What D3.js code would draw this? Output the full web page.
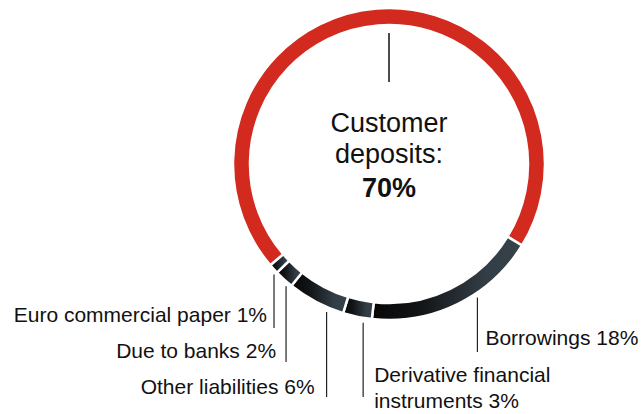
<!DOCTYPE html>
<html lang="en">
<head>
  <meta charset="UTF-8">
  <title>Funding mix</title>
  <script src="https://d3js.org/d3.v7.min.js"></script>
  <style>
    html, body { margin: 0; padding: 0; background: #fff; }
    svg { display: block; font-family: "Liberation Sans", Arial, sans-serif; }
  </style>
</head>
<body>
  <svg id="donut" width="641" height="414"></svg>

<script>
  // Données (en %)
  const categories = ["Customer deposits", "Borrowings", "Derivative financial instruments",
                      "Other liabilities", "Due to banks", "Euro commercial paper"];
  const shares = [70, 18, 3, 6, 2, 1];
  const labelLines = [
    null,
    ["Borrowings 18%"],
    ["Derivative financial", "instruments 3%"],
    ["Other liabilities 6%"],
    ["Due to banks 2%"],
    ["Euro commercial paper 1%"]
  ];

  // Mise en page des étiquettes : côté, position du trait dans le segment, écart, ligne de base, bas du trait
  const labelLayout = [
    null,
    { side: "right", frac: 0.37, gap: 8,  y: 345, lineEnd: 352 },
    { side: "right", frac: 0.30, gap: 11, y: 382, lineEnd: 397 },
    { side: "left",  frac: 0.30, gap: 12, y: 394, lineEnd: 397 },
    { side: "left",  frac: 0.36, gap: 10, y: 358, lineEnd: 362 },
    { side: "left",  frac: 0.44, gap: 7,  y: 322, lineEnd: 328 }
  ];

  const cx = 389, cy = 164;
  const outerR = 156, innerR = 139;
  const rad = Math.PI / 180;

  const svg = d3.select("#donut");

  // Dégradé des segments sombres
  const defs = svg.append("defs");
  const gradient = defs.append("linearGradient")
                       .attr("id", "darkGradient")
                       .attr("x1", 0).attr("y1", 0)
                       .attr("x2", 1).attr("y2", 0);
  gradient.append("stop").attr("offset", "0%").attr("stop-color", "#070707");
  gradient.append("stop").attr("offset", "30%").attr("stop-color", "#111315");
  gradient.append("stop").attr("offset", "75%").attr("stop-color", "#323d45");
  gradient.append("stop").attr("offset", "100%").attr("stop-color", "#36424a");

  const data = categories.map((c, i) => ({ name: c, value: shares[i], index: i }));

  const start = -130.5 * rad;
  const pie = d3.pie()
                .sort(null)
                .value(d => d.value)
                .startAngle(start)
                .endAngle(start + 2 * Math.PI);

  const arc = d3.arc().innerRadius(innerR).outerRadius(outerR);

  const g = svg.append("g").attr("transform", `translate(${cx},${cy})`);
  const arcs = pie(data);

  g.selectAll("path.slice")
   .data(arcs)
   .enter()
   .append("path")
     .attr("class", "slice")
     .attr("d", arc)
     .attr("fill", d => d.data.index === 0 ? "#d22a1e" : "url(#darkGradient)")
     .attr("stroke", "#fff")
     .attr("stroke-width", 2.5);

  // Traits et étiquettes des petits segments
  arcs.forEach(d => {
    const i = d.data.index;
    if (i === 0) return;
    const layout = labelLayout[i];
    const a = d.startAngle + layout.frac * (d.endAngle - d.startAngle);
    const x = outerR * Math.sin(a);
    const yTop = -outerR * Math.cos(a) + 5;

    g.append("line")
     .attr("x1", x).attr("x2", x)
     .attr("y1", yTop).attr("y2", layout.lineEnd - cy)
     .attr("stroke", "#222")
     .attr("stroke-width", 1.2);

    const text = g.append("text")
                  .attr("text-anchor", layout.side === "left" ? "end" : "start")
                  .attr("font-size", 21)
                  .attr("fill", "#111");
    labelLines[i].forEach((line, k) => {
      text.append("tspan")
          .attr("x", layout.side === "left" ? x - layout.gap : x + layout.gap)
          .attr("y", layout.y - cy + k * 26)
          .text(line);
    });
  });

  // Étiquette centrale, avec le trait vertical en haut de l'anneau
  g.append("line")
   .attr("x1", 0).attr("x2", 0)
   .attr("y1", -(innerR - 8)).attr("y2", -82)
   .attr("stroke", "#111")
   .attr("stroke-width", 1.5);

  const center = g.append("text")
                  .attr("text-anchor", "middle")
                  .attr("font-size", 27)
                  .attr("fill", "#111");
  center.append("tspan").attr("x", 0).attr("y", -32).text("Customer");
  center.append("tspan").attr("x", 0).attr("y", -1).text("deposits:");
  center.append("tspan").attr("x", 0).attr("y", 33)
        .attr("font-weight", "bold").text(shares[0] + "%");
</script>
</body>
</html>
